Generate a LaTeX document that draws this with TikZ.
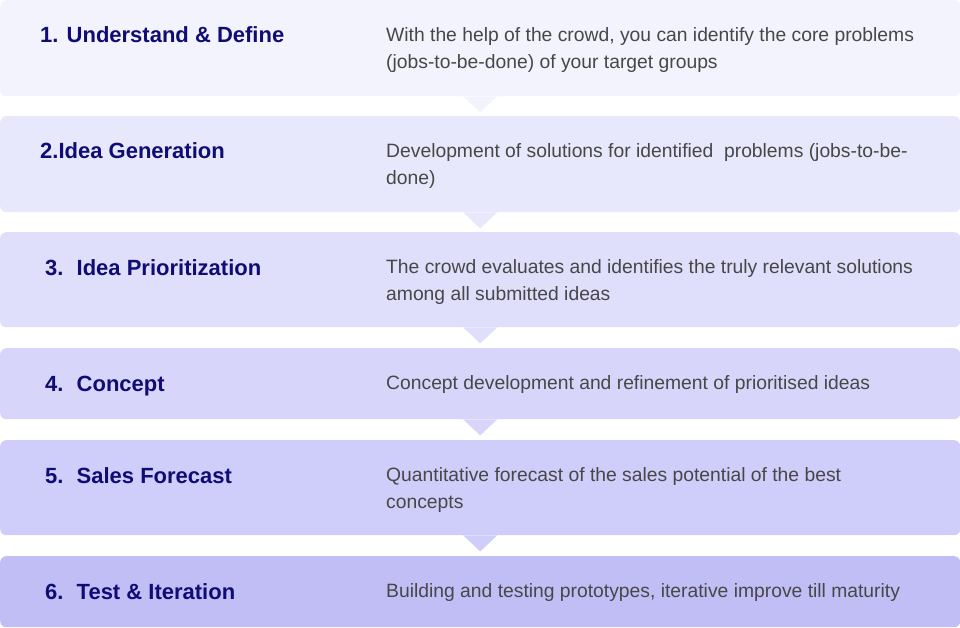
\documentclass[tikz,border=0pt]{standalone}
\usepackage{fontspec}
\setmainfont{Liberation Sans}
\definecolor{c1}{HTML}{F3F3FE}
\definecolor{c2}{HTML}{E8E8FC}
\definecolor{c3}{HTML}{DFDEFB}
\definecolor{c4}{HTML}{D7D6FA}
\definecolor{c5}{HTML}{CFCDF9}
\definecolor{c6}{HTML}{C1BEF6}
\definecolor{titlec}{HTML}{100C75}
\definecolor{descc}{HTML}{474747}
\tikzset{
  stagebox/.style={rectangle, rounded corners=6pt, minimum width=960pt, inner sep=0pt, draw=none, anchor=north west},
  titletext/.style={anchor=base west, inner sep=0pt, text=titlec, font=\fontsize{22}{26}\selectfont\bfseries},
  desctext/.style={anchor=base west, inner sep=0pt, text=descc, align=left, font=\fontsize{19.3}{27}\selectfont},
}
\newcommand{\pointer}[2]{\fill[#2] ([xshift=-17pt]#1.south) -- ([xshift=17pt]#1.south) -- ([yshift=-16pt]#1.south) -- cycle;}
\begin{document}
\begin{tikzpicture}[x=1pt,y=-1pt]
\useasboundingbox (0,0) rectangle (960,628);
% boxes
\node[stagebox, fill=c1, minimum height=96pt] (b1) at (0,0) {};
\node[stagebox, fill=c2, minimum height=96pt] (b2) at (0,116) {};
\node[stagebox, fill=c3, minimum height=95pt] (b3) at (0,232) {};
\node[stagebox, fill=c4, minimum height=71pt] (b4) at (0,348) {};
\node[stagebox, fill=c5, minimum height=95pt] (b5) at (0,440) {};
\node[stagebox, fill=c6, minimum height=71pt] (b6) at (0,556) {};
% pointers
\pointer{b1}{c1}
\pointer{b2}{c2}
\pointer{b3}{c3}
\pointer{b4}{c4}
\pointer{b5}{c5}
% titles
\node[titletext] (t1) at (40,43) {1. Understand \& Define};
\node[titletext] (t2) at (40,159) {2.Idea Generation};
\node[titletext] (t3) at (45,275) {3.\hspace{5pt} Idea Prioritization};
\node[titletext] (t4) at (45,391) {4.\hspace{5pt} Concept};
\node[titletext] (t5) at (45,483) {5.\hspace{5pt} Sales Forecast};
\node[titletext] (t6) at (45,599) {6.\hspace{5pt} Test \& Iteration};
% descriptions (base anchor of a two-line node is the second line)
\node[desctext] (d1) at (386,68.5) {With the help of the crowd, you can identify the core problems\\(jobs-to-be-done) of your target groups};
\node[desctext] (d2) at (386,184.5) {Development of solutions for identified\ \ problems (jobs-to-be-\\done)};
\node[desctext] (d3) at (386,300.5) {The crowd evaluates and identifies the truly relevant solutions\\among all submitted ideas};
\node[desctext] (d4) at (386,389.5) {Concept development and refinement of prioritised ideas};
\node[desctext] (d5) at (386,508.5) {Quantitative forecast of the sales potential of the best\\concepts};
\node[desctext] (d6) at (386,597.5) {Building and testing prototypes, iterative improve till maturity};
\end{tikzpicture}
\end{document}
